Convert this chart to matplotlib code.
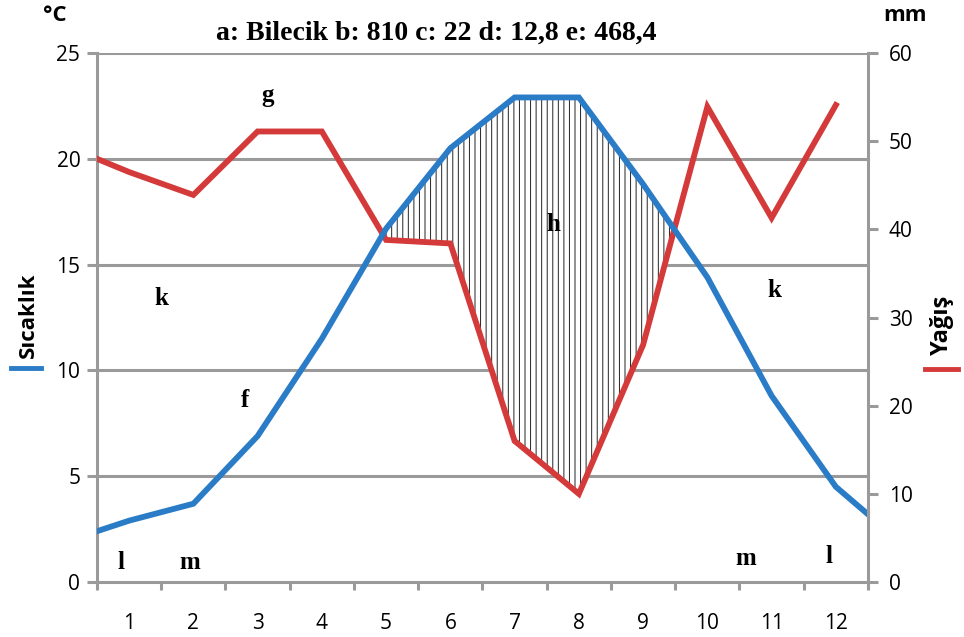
import numpy as np
import matplotlib.pyplot as plt

# Values
months = [1, 2, 3, 4, 5, 6, 7, 8, 9, 10, 11, 12]
temp = [2.9, 3.7, 6.9, 11.5, 16.7, 20.5, 22.9, 22.9, 18.8, 14.4, 8.8, 4.5]   # °C
rain = [46.5, 43.9, 51.1, 51.1, 38.8, 38.4, 16.0, 10.0, 26.9, 53.9, 41.3, 54.1]  # mm
temp_start, temp_end = 2.4, 3.2   # line runs to the plot edges
rain_start = 48.0
title = "a: Bilecik b: 810 c: 22 d: 12,8 e: 468,4"
letters = [("g", 3.15, 23.0), ("k", 1.5, 13.4), ("f", 2.8, 8.6), ("h", 7.6, 16.9),
           ("k", 11.05, 13.8), ("l", 0.88, 0.9), ("m", 1.95, 0.9), ("m", 10.6, 1.1),
           ("l", 11.9, 1.2)]

blue = '#2a7cc7'
red = '#d43a3a'
grey = '#9a9a9a'
ratio = 60 / 25  # mm per °C

plt.rcParams['font.family'] = ['Open Sans', 'DejaVu Sans']
plt.rcParams['hatch.linewidth'] = 0.7

fig = plt.figure(figsize=(9.64, 6.37), dpi=100)
ax = fig.add_axes([0.1006, 0.0863, 0.7998, 0.8305])
ax2 = ax.twinx()

tx = np.array([0.5] + months + [12.5])
ty = np.array([temp_start] + temp + [temp_end])
rx = np.array([0.5] + months)
ry = np.array([rain_start] + rain)

# dry season hatch: temperature above precipitation/ratio
xs = np.linspace(0.5, 12.5, 2000)
t_i = np.interp(xs, tx, ty)
r_i = np.interp(xs, rx, ry) / ratio
ax.fill_between(xs, r_i, t_i, where=t_i > r_i, facecolor='white', edgecolor='#222222',
                hatch='|||', linewidth=0, zorder=2)

for v in [5, 10, 15, 20, 25]:
    ax.axhline(v, color=grey, lw=2.2, zorder=1)

ax.plot(tx, ty, color=blue, lw=4.2, solid_joinstyle='miter', zorder=4)
ax.plot(rx, ry / ratio, color=red, lw=4.2, solid_joinstyle='miter', zorder=3)

ax.set_xlim(0.5, 12.5)
ax.set_ylim(0, 25)
ax2.set_ylim(0, 60)
ax.set_yticks([0, 5, 10, 15, 20, 25])
ax2.set_yticks([0, 10, 20, 30, 40, 50, 60])
ax.set_xticks(months)
ax.set_xticks(np.arange(0.5, 13, 1), minor=True)
ax.tick_params(axis='x', which='major', length=0, pad=22, labelsize=15)
ax.tick_params(axis='x', which='minor', length=6, width=2.2, color=grey)
ax.tick_params(axis='y', length=7, width=2.2, color=grey, labelsize=15, pad=5)
ax2.tick_params(axis='y', length=7, width=2.2, color=grey, labelsize=15, pad=8)

for a in (ax, ax2):
    for s in a.spines.values():
        s.set_visible(False)
ax.spines['left'].set_visible(True)
ax.spines['bottom'].set_visible(True)
ax2.spines['right'].set_visible(True)
for s in [ax.spines['left'], ax.spines['bottom'], ax2.spines['right']]:
    s.set_color(grey)
    s.set_linewidth(2.2)

for txt, x, y in letters:
    ax.text(x, y, txt, family='Liberation Serif', fontweight='bold', fontsize=18,
            ha='center', va='center', zorder=6)

fig.text(0.453, 0.948, title, family='Liberation Serif', fontweight='bold',
         fontsize=20, ha='center', va='center')
fig.text(0.057, 0.975, "°C", fontweight='bold', fontsize=16, ha='center', va='center')
fig.text(0.939, 0.975, "mm", fontweight='bold', fontsize=16, ha='center', va='center')

fig.text(0.030, 0.505, "Sıcaklık", rotation=90, fontweight='bold', fontsize=16,
         ha='center', va='center')
fig.add_artist(plt.Line2D([0.011, 0.043], [0.423, 0.423], color=blue, lw=3.5))
fig.text(0.977, 0.49, "Yağış", rotation=90, fontweight='bold', fontsize=17,
         ha='center', va='center')
fig.add_artist(plt.Line2D([0.960, 0.994], [0.421, 0.421], color=red, lw=3.5))

fig.savefig('out.png', dpi=100)
